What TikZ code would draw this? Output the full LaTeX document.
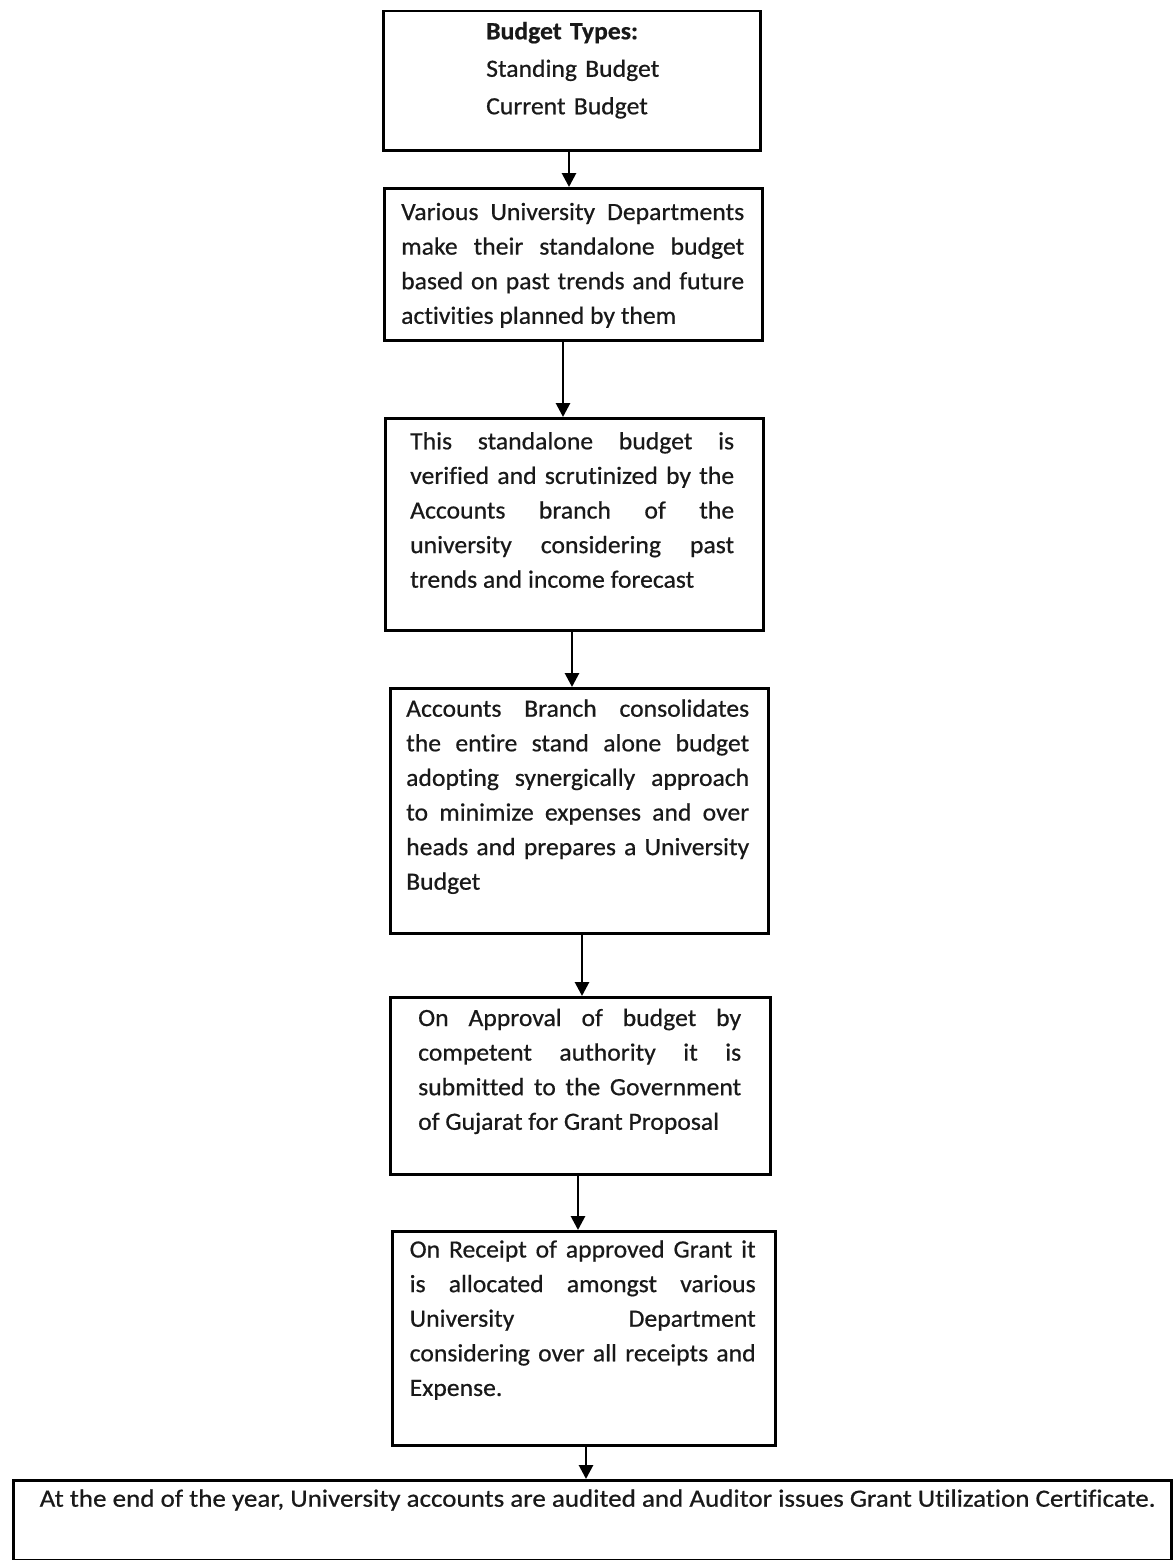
\documentclass[tikz,border=0pt]{standalone}
\usepackage{fontspec}
\setmainfont{Carlito}[Ligatures=NoCommon, FakeStretch=1.035, FakeBold=0.6]
\newfontfamily\widefont{Carlito}[Ligatures=NoCommon, FakeStretch=1.09, FakeBold=0.6]
\usetikzlibrary{arrows.meta}
\begin{document}
\begin{tikzpicture}[x=1pt,y=-1pt,
  box/.style={draw, line width=2.5pt, rectangle, inner sep=0pt, anchor=north west},
  txt/.style={inner sep=0pt, anchor=base west, text=black!90, font=\fontsize{24.8}{34.6}\selectfont},
  para/.style={txt, align=justify,
    execute at begin node={\hyphenpenalty=10000 \tolerance=10000 \emergencystretch=20pt\relax}},
  arr/.style={line width=2.8pt, -{Triangle[width=14pt,length=14pt]}}]
\useasboundingbox (0,0) rectangle (1174,1560);
% boxes
\node[box, minimum width=377pt, minimum height=139pt] (b1) at (382,10) {};
\node[box, minimum width=378pt, minimum height=152pt] (b2) at (383,187) {};
\node[box, minimum width=378pt, minimum height=212pt] (b3) at (384,417) {};
\node[box, minimum width=378pt, minimum height=245pt] (b4) at (389,687) {};
\node[box, minimum width=380pt, minimum height=177pt] (b5) at (389,996) {};
\node[box, minimum width=383pt, minimum height=214pt] (b6) at (391,1230) {};
\node[box, minimum width=1158pt, minimum height=80pt] (b7) at (12,1479) {};
% texts
\node[txt, align=left, text width=260pt, font=\fontsize{24.8}{37.5}\selectfont] (t1) at (486,39.3)
  {\textbf{Budget Types:}\\Standing Budget\\Current Budget};
\node[para, text width=343pt] (t2) at (401,220)
  {Various University Departments\linebreak make their standalone budget\linebreak based on past trends and future\linebreak activities planned by them};
\node[para, text width=324pt] (t3) at (410,449.3)
  {This standalone budget is\linebreak verified and scrutinized by the\linebreak Accounts branch of the\linebreak university considering past\linebreak trends and income forecast};
\node[para, text width=343pt] (t4) at (406,716.7)
  {Accounts Branch consolidates\linebreak the entire stand alone budget\linebreak adopting synergically approach\linebreak to minimize expenses and over\linebreak heads and prepares a University\linebreak Budget};
\node[para, text width=323pt] (t5) at (418,1026)
  {On Approval of budget by\linebreak competent authority it is\linebreak submitted to the Government\linebreak of Gujarat for Grant Proposal};
\node[para, text width=346pt] (t6) at (409.5,1257.5)
  {On Receipt of approved Grant it\linebreak is allocated amongst various\linebreak University Department\linebreak considering over all receipts and\linebreak Expense.};
\node[txt, font=\widefont\fontsize{24.8}{34.6}\selectfont] (t7) at (39.5,1506.7)
  {At the end of the year, University accounts are audited and Auditor issues Grant Utilization Certificate.};
% arrows
\coordinate (x1) at (569,0);
\coordinate (x2) at (563,0);
\coordinate (x3) at (572,0);
\coordinate (x4) at (582,0);
\coordinate (x5) at (578,0);
\coordinate (x6) at (586,0);
\draw[arr] (b1.south -| x1) -- (b2.north -| x1);
\draw[arr] (b2.south -| x2) -- (b3.north -| x2);
\draw[arr] (b3.south -| x3) -- (b4.north -| x3);
\draw[arr] (b4.south -| x4) -- (b5.north -| x4);
\draw[arr] (b5.south -| x5) -- (b6.north -| x5);
\draw[arr] (b6.south -| x6) -- (b7.north -| x6);
\end{tikzpicture}
\end{document}
